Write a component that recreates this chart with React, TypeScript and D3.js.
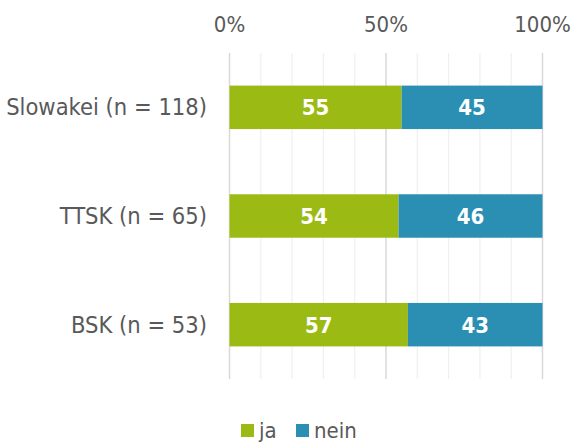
import React from 'react';
import * as d3 from 'd3';

const categories = ['Slowakei (n = 118)', 'TTSK (n = 65)', 'BSK (n = 53)'];
const jaValues = [55, 54, 57];
const neinValues = [45, 46, 43];
const seriesNames = ['ja', 'nein'];
const seriesColors = ['#9bbb14', '#2a8fb3'];
const tickValues = [0, 50, 100];

const W = 572;
const H = 445;
const FONT = '"DejaVu Sans Condensed", "DejaVu Sans", sans-serif';

export default function App() {
  const x = d3.scaleLinear().domain([0, 100]).range([229.5, 542.5]);
  const y = d3.scaleBand<string>().domain(categories).range([53, 379]).paddingInner(0.6).paddingOuter(0.3);
  const grid = d3.range(0, 101, 10);

  return (
    <svg width={W} height={H} style={{ position: 'absolute', left: 0, top: 0, fontFamily: FONT, fontStretch: 'condensed' }}>
      {grid.map(g => (
        <line key={g} x1={x(g)} x2={x(g)} y1={53} y2={379}
          stroke={g % 50 === 0 ? '#d9d9d9' : '#f0f0f0'} strokeWidth={g % 50 === 0 ? 1.5 : 1.2} />
      ))}
      {tickValues.map(t => (
        <text key={t} x={x(t)} y={32} textAnchor="middle" fontSize={22} fill="#595959">{t}%</text>
      ))}
      {categories.map((c, i) => {
        const y0 = y(c)!;
        const bh = y.bandwidth();
        const xj = x(jaValues[i]);
        return (
          <g key={c}>
            <text x={207} y={y0 + bh / 2 + 8} textAnchor="end" fontSize={23.5} fill="#595959">{c}</text>
            <rect x={x(0)} y={y0} width={xj - x(0)} height={bh} fill={seriesColors[0]} />
            <rect x={xj} y={y0} width={x(100) - xj} height={bh} fill={seriesColors[1]} />
            <text x={(x(0) + xj) / 2} y={y0 + bh / 2 + 8} textAnchor="middle" fontSize={22} fontWeight="bold" fill="#fff">{jaValues[i]}</text>
            <text x={(xj + x(100)) / 2} y={y0 + bh / 2 + 8} textAnchor="middle" fontSize={22} fontWeight="bold" fill="#fff">{neinValues[i]}</text>
          </g>
        );
      })}
      <g>
        <rect x={241} y={424} width={13} height={13} fill={seriesColors[0]} />
        <text x={259} y={438} fontSize={22} fill="#595959">{seriesNames[0]}</text>
        <rect x={296} y={424} width={13} height={13} fill={seriesColors[1]} />
        <text x={314} y={438} fontSize={22} fill="#595959">{seriesNames[1]}</text>
      </g>
    </svg>
  );
}
